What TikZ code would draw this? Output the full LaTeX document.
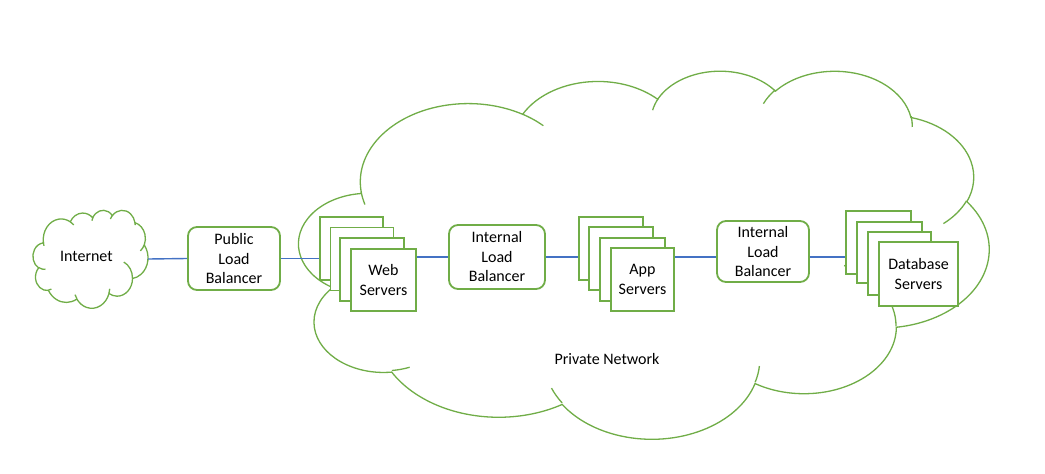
\documentclass[tikz,border=0pt]{standalone}
\usepackage{fontspec}
\setmainfont{Carlito}
\usetikzlibrary{positioning}

\definecolor{leafgreen}{RGB}{112,173,71}
\definecolor{wireblue}{RGB}{68,114,196}

\tikzset{
  cloudarc/.code n args={4}{%
    \pgfmathsetmacro\cldS{atan2(#1*sin(#3),#2*cos(#3))}%
    \pgfmathsetmacro\cldE{atan2(#1*sin(#3+#4),#2*cos(#3+#4))}%
    \pgfmathsetmacro\cldD{mod(\cldE-(\cldS)+720,360)}%
    \edef\cldtmp{\noexpand\tikzset{x radius=#1,y radius=#2,start angle=\cldS,delta angle=\cldD}}%
    \cldtmp},
  cloudline/.style={draw=leafgreen,line width=1.3pt},
}

% cloud outline in a 4320 x 4320 frame, y pointing down
\newcommand\drawcloud[4]{%
  \pgfmathsetmacro\cldxu{#3/4320}%
  \pgfmathsetmacro\cldyu{#4/4320}%
  \begin{scope}[shift={(#1,#2)},x=\cldxu pt,y=-\cldyu pt]
    \draw[cloudline,fill=white] (390,1437)
      arc[cloudarc={675.3}{919.0}{-190.4875}{123.7805}]
      arc[cloudarc={533.3}{726.7}{-144.1024}{89.9452}]
      arc[cloudarc={436.5}{594.5}{-145.8079}{99.7230}]
      arc[cloudarc={485.7}{659.5}{-130.9861}{117.2417}]
      arc[cloudarc={533.3}{727.3}{-78.7089}{109.0269}]
      arc[cloudarc={677.5}{922.0}{-46.2673}{130.2690}]
      arc[cloudarc={578.5}{786.7}{0.6250}{114.0333}]
      arc[cloudarc={675.2}{921.5}{22.4516}{115.1726}]
      arc[cloudarc={772.0}{1054.3}{66.2426}{75.7110}]
      arc[cloudarc={436.0}{591.8}{-274.9421}{146.7356}]
      arc[cloudarc={434.5}{594.5}{-246.8285}{152.5189}]
      -- cycle;
    \draw[cloudline]
      (469.3,2617.7) arc[cloudarc={434.5}{594.5}{86.7420}{26.4295}]
      (692.8,3489.9) arc[cloudarc={436.0}{591.8}{73.6105}{11.4475}]
      (1647.8,3909.0) arc[cloudarc={675.2}{921.5}{137.6242}{14.0811}]
      (2882.7,3475.1) arc[cloudarc={675.2}{921.5}{6.4533}{15.9984}]
      (3412.9,2295.4) arc[cloudarc={578.5}{786.7}{-70.2924}{70.9174}]
      (4179.8,1535.4) arc[cloudarc={533.3}{727.3}{30.3180}{27.7515}]
      (3832.4,542.6) arc[cloudarc={485.7}{659.5}{-13.7443}{14.8589}]
      (2907.8,395.2) arc[cloudarc={485.7}{659.5}{-149.1815}{18.1954}]
      (2214.1,472.0) arc[cloudarc={436.5}{594.5}{-163.4943}{17.6864}]
      (1400.0,519.2) arc[cloudarc={675.3}{919.0}{-66.7070}{12.3194}]
      (412.7,1578.9) arc[cloudarc={675.3}{919.0}{157.6544}{11.8582}];
  \end{scope}}

\begin{document}
\begin{tikzpicture}[x=1pt,y=-1pt,
    txt/.style={font=\fontsize{16}{19.5}\selectfont,align=center,inner sep=0pt},
    lbbox/.style={txt,draw=leafgreen,line width=1.8pt,fill=white,rounded corners=9pt},
    srvbox/.style={txt,draw=leafgreen,line width=1.8pt,fill=white,minimum width=63pt,minimum height=63pt},
    wire/.style={draw=wireblue,line width=1.4pt}]
  \useasboundingbox (0,0) rectangle (1045,474);

  \drawcloud{299}{70}{690}{368}
  \drawcloud{33}{210}{115}{98}

  \node[inner sep=0pt,minimum width=115pt,minimum height=98pt] (inet) at (90.5,259) {};
  \node[txt] (inettxt) at (86.4,256.7) {Internet};
  \node[txt] (private) at (607,359) {Private Network};

  \node[lbbox,minimum width=92pt,minimum height=63pt] (plb) at (234,258.5) {Public\\Load\\Balancer};
  \node[lbbox,minimum width=96pt,minimum height=64pt] (ilba) at (497,257) {Internal\\Load\\Balancer};
  \node[lbbox,minimum width=92pt,minimum height=61pt] (ilbb) at (763,251.5) {Internal\\Load\\Balancer};

  \node[srvbox] (web1) at (351.5,248.5) {};
  \node[srvbox] (web2) at (362,259) {};
  \node[srvbox,minimum width=64pt] (web3) at (372,269.5) {};
  \node[srvbox,minimum width=65pt,minimum height=62pt] (web4) at (383.5,280) {Web\\Servers};

  \node[srvbox,minimum width=64pt] (app1) at (611,248.5) {};
  \node[srvbox,minimum width=64pt] (app2) at (621,258.5) {};
  \node[srvbox,minimum width=65pt] (app3) at (632.5,269.5) {};
  \node[srvbox] (app4) at (642.5,279.5) {App\\Servers};

  \node[srvbox,minimum width=65pt] (db1) at (878.5,242.5) {};
  \node[srvbox,minimum width=65pt,minimum height=61pt] (db2) at (889.5,252.5) {};
  \node[srvbox] (db3) at (899.5,263.5) {};
  \node[srvbox,minimum width=79pt,minimum height=64pt] (db4) at (918.5,274) {Database\\Servers};

  \draw[wire] (inet.east) -- (plb.west);
  \draw[wire] (plb.east) -- (plb.east -| web1.west);
  \draw[wire] (ilba.west -| web4.east) -- (ilba.west);
  \draw[wire] (ilba.east) -- (ilba.east -| app1.west);
  \draw[wire] (app4.east |- ilba.east) -- (ilbb.west |- ilba.east);
  \draw[wire] (ilbb.east |- ilba.east) -- (db1.west |- ilba.east);
\end{tikzpicture}
\end{document}
